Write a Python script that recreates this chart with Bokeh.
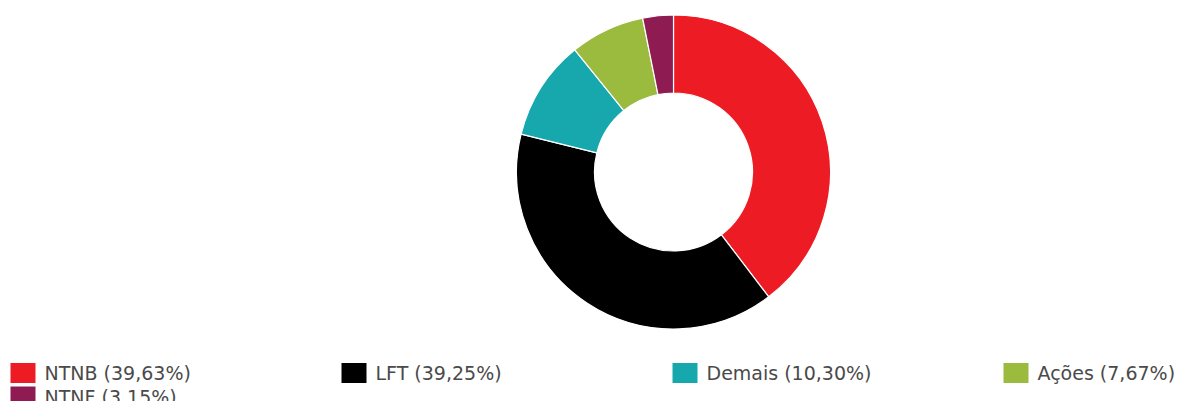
import numpy as np
from bokeh.plotting import figure, ColumnDataSource
from bokeh.models import Range1d
from bokeh.core.properties import value
from bokeh.embed import file_html
from bokeh.resources import INLINE

categories = ["NTNB", "LFT", "Demais", "Ações", "NTNF"]
shares = [39.63, 39.25, 10.30, 7.67, 3.15]
colors = ["#ED1C24", "#000000", "#17A8AE", "#9BBB3F", "#8E1B52"]
labels = [f"{c} ({s:.2f}%)".replace(".", ",") for c, s in zip(categories, shares)]

W, H = 1181, 401
cx, cy = 673, H - 171.5
r_out, r_in = 157, 79

frac = np.array(shares) / sum(shares)
cum = np.concatenate([[0], np.cumsum(frac)])
start = np.pi / 2 - cum[:-1] * 2 * np.pi
end = np.pi / 2 - cum[1:] * 2 * np.pi

p = figure(width=W, height=H, output_backend="svg", toolbar_location=None,
           x_range=Range1d(0, W), y_range=Range1d(0, H), min_border=0)
p.axis.visible = False
p.grid.visible = False
p.outline_line_color = None
p.background_fill_color = "white"
p.border_fill_color = "white"

src = ColumnDataSource(dict(start=start, end=end, color=colors))
p.annular_wedge(x=cx, y=cy, inner_radius=r_in, outer_radius=r_out,
                inner_radius_units="screen", outer_radius_units="screen",
                start_angle="start", end_angle="end", direction="clock",
                fill_color="color", line_color="white", line_width=1.2, source=src)

# legend grid: 4 columns
ncol = 4
col_w = 331
idx = np.arange(len(categories))
lx = 10 + (idx % ncol) * col_w
ly = H - (372.5 + (idx // ncol) * 23.5)
lsrc = ColumnDataSource(dict(x=lx + 12.5, tx=lx + 34, y=ly, color=colors, label=labels))
p.rect(x="x", y="y", width=25, height=20, fill_color="color", line_color=None, source=lsrc)
p.text(x="tx", y="y", text="label", text_font=value("DejaVu Sans"), text_font_size="19px",
       text_color="#4a4a4a", text_baseline="middle", text_align="left", source=lsrc)

open("out.html", "w").write(file_html(p, INLINE))
